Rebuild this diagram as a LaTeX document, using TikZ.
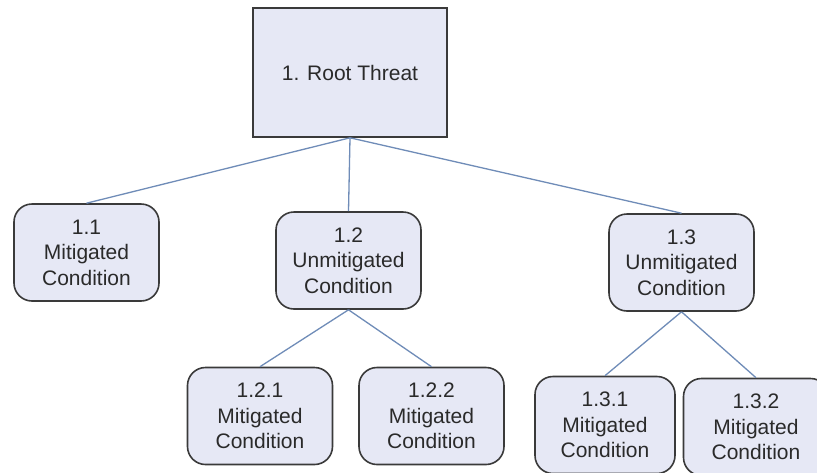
\documentclass[tikz,border=0pt]{standalone}
\usepackage{fontspec}
\setmainfont{Liberation Sans}
\definecolor{boxfill}{HTML}{E6E8F5}
\definecolor{boxline}{HTML}{3A3A3A}
\definecolor{linkblue}{HTML}{6F8CB8}
\definecolor{textgray}{HTML}{2A2A2A}
\begin{document}
\begin{tikzpicture}[x=1pt,y=-1pt,
  thick,cond node/.style={rectangle,rounded corners=18pt,draw=boxline,fill=boxfill,line width=1.6pt,
    align=center,text=textgray,font=\fontsize{21}{25.5}\selectfont,inner sep=0pt,
    minimum width=145pt,minimum height=97pt},
  root node/.style={cond node,rounded corners=0pt,minimum width=194pt,minimum height=129pt}]
  \clip (0,0) rectangle (817,472);
  \fill[white] (0,0) rectangle (817,472);
  \node[root node] (1) at (350,72.5) {1. Root Threat};
  \node[cond node] (11) at (86.5,252.5) {1.1\\Mitigated\\Condition};
  \node[cond node] (12) at (348.5,260.5) {1.2\\Unmitigated\\Condition};
  \node[cond node] (13) at (681.5,262.5) {1.3\\Unmitigated\\Condition};
  \node[cond node] (121) at (260,416) {1.2.1\\Mitigated\\Condition};
  \node[cond node] (122) at (431.5,416) {1.2.2\\Mitigated\\Condition};
  \node[cond node,minimum width=140pt] (131) at (605,425) {1.3.1\\Mitigated\\Condition};
  \node[cond node] (132) at (756,427) {1.3.2\\Mitigated\\Condition};

  \path[draw=linkblue,line width=1.3pt]
   (1.south) edge (11.north)
   (1.south) edge (12.north)
   (1.south) edge (13.north)
   (12.south) edge (121.north)
   (12.south) edge (122.north)
   (13.south) edge (131.north)
   (13.south) edge (132.north);
\end{tikzpicture}
\end{document}
